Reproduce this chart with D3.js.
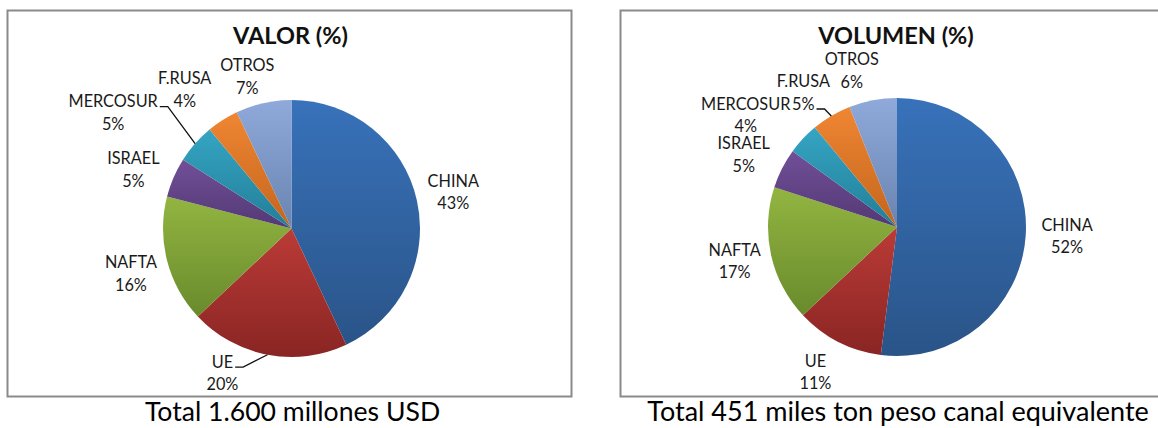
<!DOCTYPE html>
<html>
<head>
<meta charset="utf-8">
<script src="https://cdn.jsdelivr.net/npm/d3@7"></script>
<style>
  body { margin: 0; background: #fff; }
  svg { display: block; font-family: Lato, "Open Sans", sans-serif; }
</style>
</head>
<body>
<svg id="chart" width="1158" height="428"></svg>
<script>
// data
const categories = ["CHINA", "UE", "NAFTA", "ISRAEL", "MERCOSUR", "F.RUSA", "OTROS"];
const valorPct = [43, 20, 16, 5, 5, 4, 7];
const volumenPct = [52, 11, 17, 5, 4, 5, 6];

// slice colours (top / bottom of gradient)
const colorTop = ["#3872ba", "#bb3b37", "#92b541", "#714f98", "#35a5c3", "#ef8633", "#8faada"];
const colorBottom = ["#2a5488", "#892523", "#698a2c", "#533974", "#227e98", "#c4651c", "#6984b0"];

const svg = d3.select("#chart");
const defs = svg.append("defs");

categories.forEach((c, i) => {
	const g = defs.append("linearGradient")
		.attr("id", "grad" + i)
		.attr("x1", 0).attr("y1", 0)
		.attr("x2", 0).attr("y2", 1);
	g.append("stop").attr("offset", "0%").attr("stop-color", colorTop[i]);
	g.append("stop").attr("offset", "100%").attr("stop-color", colorBottom[i]);
});

function drawPie(cfg) {
	const panel = svg.append("g");

	// frame
	panel.append("rect")
		.attr("x", cfg.box[0]).attr("y", cfg.box[1])
		.attr("width", cfg.box[2]).attr("height", cfg.box[3])
		.attr("fill", "none")
		.attr("stroke", "#8a8a8a")
		.attr("stroke-width", 2);

	panel.append("text")
		.attr("x", cfg.cx - 1).attr("y", 44)
		.attr("text-anchor", "middle")
		.attr("font-size", 23.5)
		.attr("font-weight", "bold")
		.attr("fill", "#111")
		.text(cfg.title);

	panel.append("text")
		.attr("x", cfg.cx + 1).attr("y", 421)
		.attr("text-anchor", "middle")
		.attr("font-size", cfg.captionSize)
		.attr("fill", "#000")
		.text(cfg.caption);

	const pie = d3.pie().sort(null).value(d => d);
	const arcs = pie(cfg.values);
	const arc = d3.arc().innerRadius(0).outerRadius(cfg.r);
	const labelArc = d3.arc().innerRadius(cfg.r * 1.29).outerRadius(cfg.r * 1.29);
	const edgeArc = d3.arc().innerRadius(cfg.r).outerRadius(cfg.r);

	const g = panel.append("g")
		.attr("transform", "translate(" + cfg.cx + "," + cfg.cy + ")");

	g.selectAll("path.slice")
		.data(arcs)
		.join("path")
		.attr("class", "slice")
		.attr("d", arc)
		.attr("fill", (d, i) => "url(#grad" + i + ")");

	// labels
	const lh = 22.5;
	arcs.forEach((d, i) => {
		const c = labelArc.centroid(d);
		const x = c[0] + cfg.nudge[i][0];
		const y = c[1] + cfg.nudge[i][1];
		const lines = [categories[i], cfg.values[i] + "%"];
		const t = g.append("text")
			.attr("text-anchor", "middle")
			.attr("font-size", 16.3)
			.attr("fill", "#1a1a1a");
		const spans = lines.map((s, k) => t.append("tspan")
			.attr("x", x)
			.attr("y", y + (k - 0.5) * lh + 5.8)
			.text(s));

		const lead = cfg.leaders[i];
		if (lead !== undefined) {
			const w = spans[lead].node().getComputedTextLength();
			const x0 = x + w / 2 + 2;
			const y0 = y + (lead - 0.5) * lh + 5;
			const p = edgeArc.centroid(d);
			g.append("path")
				.attr("d", d3.line()([[x0, y0], [x0 + 8, y0], p]))
				.attr("fill", "none")
				.attr("stroke", "#111")
				.attr("stroke-width", 1.3);
		}
	});
}

drawPie({
	title: "VALOR (%)",
	caption: "Total 1.600 millones USD",
	captionSize: 26.6,
	values: valorPct,
	box: [7.5, 10.5, 564, 386],
	cx: 291.5, cy: 228.5, r: 128.5,
	nudge: [[0, 0], [-38, -18], [0, 4], [-6, 7], [-54, -6], [-18, 1], [-8, 10]],
	leaders: { 1: 0, 4: 0 }
});

drawPie({
	title: "VOLUMEN (%)",
	caption: "Total 451 miles ton peso canal equivalente",
	captionSize: 27,
	values: volumenPct,
	box: [620.5, 10.5, 560, 386],
	cx: 897, cy: 227, r: 129,
	nudge: [[4, -1], [-6, -3], [0, -2], [-5, 3], [-30, 2], [-9, 9], [-14, 7]],
	leaders: { 5: 1 }
});
</script>
</body>
</html>
